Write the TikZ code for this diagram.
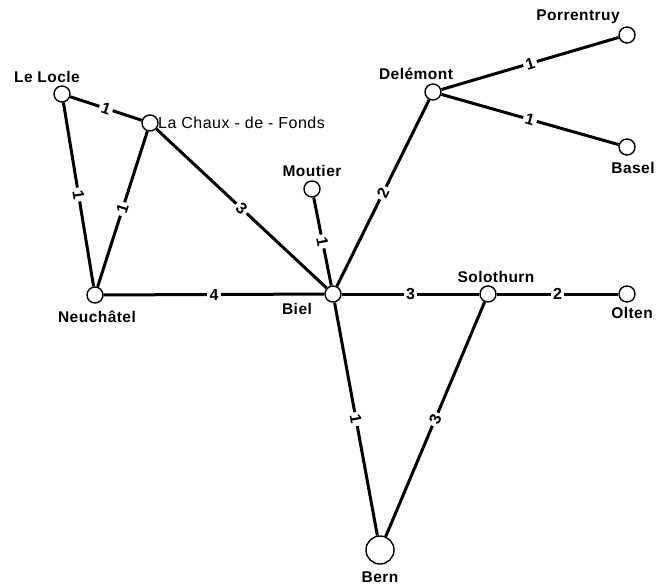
\documentclass[tikz,border=0pt]{standalone}
\usepackage{fontspec}
\newfontfamily\townfont[LetterSpace=3]{Liberation Sans}
\usetikzlibrary{calc}

\begin{document}
\begin{tikzpicture}[x=1pt,y=-1pt,
    town/.style={circle,draw,line width=1.4pt,fill=white,minimum size=16pt,inner sep=0pt},
    townname/.style={font=\townfont\bfseries\fontsize{15.5}{17}\selectfont,inner sep=0pt},
    weight/.style={midway,sloped,fill=white,inner sep=2.5pt,font=\townfont\bfseries\fontsize{16}{18}\selectfont},
    rail/.style={line width=3pt}]
  \useasboundingbox (0,0) rectangle (668,585);
  % towns
  \node[town] (lelocle) at (62,94) {};
  \node[town] (chaux) at (150,123) {};
  \node[town] (neuchatel) at (95,295) {};
  \node[town] (biel) at (333,294) {};
  \node[town] (moutier) at (312,189) {};
  \node[town] (delemont) at (433,92) {};
  \node[town] (porrentruy) at (627,35) {};
  \node[town] (basel) at (627,147) {};
  \node[town] (solothurn) at (488,294) {};
  \node[town] (olten) at (627,294) {};
  \node[town,minimum size=28pt] (bern) at (380,550) {};
  % lines with weights
  \foreach \a/\b/\w [count=\k] in {lelocle/chaux/1, lelocle/neuchatel/1, chaux/neuchatel/1,
      chaux/biel/3, neuchatel/biel/4, moutier/biel/1, biel/delemont/2, biel/solothurn/3,
      solothurn/olten/2, delemont/porrentruy/1, delemont/basel/1, biel/bern/1, solothurn/bern/3}
    \draw[rail] (\a) -- node[weight] (w\k) {\w} (\b);
  % names
  \node[townname] (n-lelocle) at (47,77) {Le Locle};
  \node[townname,anchor=west,font=\townfont\mdseries\fontsize{16}{18}\selectfont] (n-chaux) at (158,123) {La Chaux\hspace{5pt}-\hspace{5pt}de\hspace{5pt}-\hspace{5pt}Fonds};
  \node[townname] (n-neuchatel) at (97,317) {Neuchâtel};
  \node[townname] (n-biel) at (297,309) {Biel};
  \node[townname] (n-moutier) at (312,171) {Moutier};
  \node[townname] (n-delemont) at (416,74) {Delémont};
  \node[townname] (n-porrentruy) at (578,17) {Porrentruy};
  \node[townname] (n-basel) at (633,168) {Basel};
  \node[townname] (n-solothurn) at (496,277) {Solothurn};
  \node[townname] (n-olten) at (632,313) {Olten};
  \node[townname] (n-bern) at (380,577) {Bern};
\end{tikzpicture}
\end{document}
